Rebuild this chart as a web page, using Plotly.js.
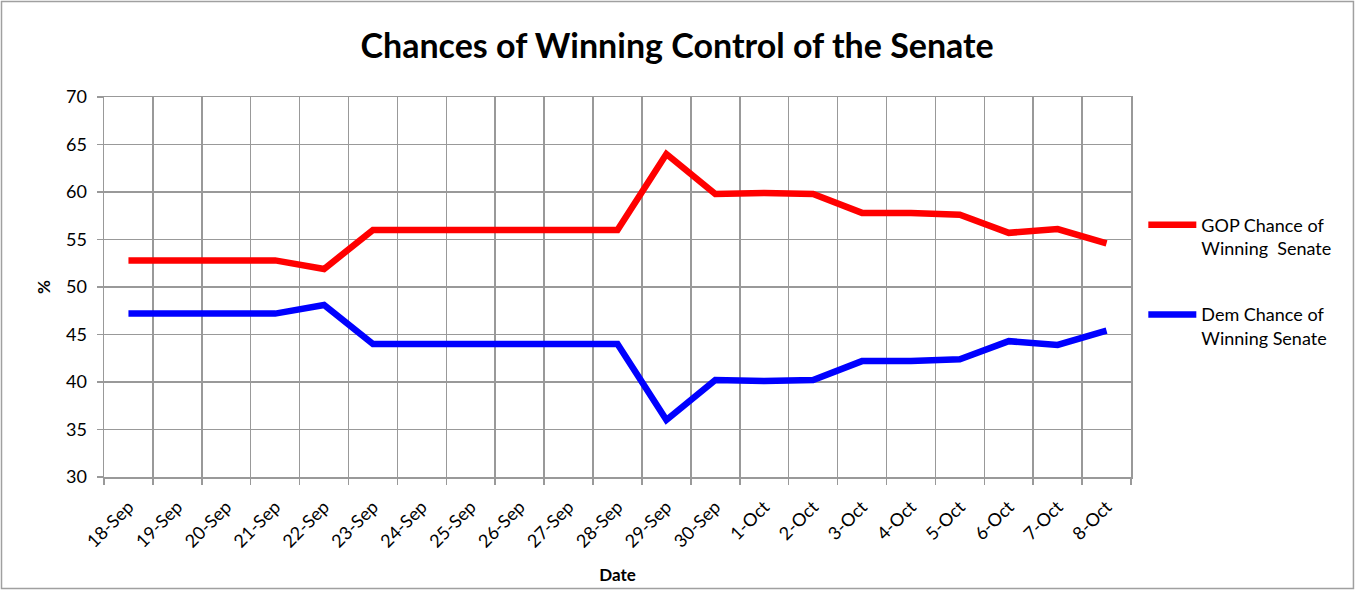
<!DOCTYPE html>
<html>
<head>
<meta charset="utf-8">
<script src="https://cdn.plot.ly/plotly-3.0.1.min.js"></script>
<style>
  body { margin: 0; background: #fff; }
  #chart { width: 1357px; height: 590px; }
</style>
</head>
<body>
<div id="chart"></div>
<script>
// Dates on the x axis
const dates = ["18-Sep", "19-Sep", "20-Sep", "21-Sep", "22-Sep", "23-Sep", "24-Sep",
  "25-Sep", "26-Sep", "27-Sep", "28-Sep", "29-Sep", "30-Sep", "1-Oct", "2-Oct",
  "3-Oct", "4-Oct", "5-Oct", "6-Oct", "7-Oct", "8-Oct"];

// GOP chance of winning the Senate (%)
const gopChance = [52.8, 52.8, 52.8, 52.8, 51.9, 56.0, 56.0, 56.0, 56.0, 56.0, 56.0,
  64.0, 59.8, 59.9, 59.8, 57.8, 57.8, 57.6, 55.7, 56.1, 54.6];

// Dem chance of winning the Senate (%)
const demChance = [47.2, 47.2, 47.2, 47.2, 48.1, 44.0, 44.0, 44.0, 44.0, 44.0, 44.0,
  36.0, 40.2, 40.1, 40.2, 42.2, 42.2, 42.4, 44.3, 43.9, 45.4];

const seriesNames = ["GOP Chance of<br>Winning  Senate", "Dem Chance of<br>Winning Senate"];
const yTicks = [30, 35, 40, 45, 50, 55, 60, 65, 70];

const font = "Lato, 'Open Sans', sans-serif";
const gridColor = "#999999";

let gopLine = {
  x: dates, y: gopChance, name: seriesNames[0], legendgroup: "gop",
  type: "scatter", mode: "lines",
  line: { color: "#ff0000", width: 6.5 }
};

let demLine = {
  x: dates, y: demChance, name: seriesNames[1], legendgroup: "dem",
  type: "scatter", mode: "lines",
  line: { color: "#0000ff", width: 6.5 }
};

let layout = {
  width: 1357, height: 590,
  margin: { l: 104, r: 226, t: 97, b: 113 },
  paper_bgcolor: "#fff", plot_bgcolor: "#fff",
  font: { family: font, size: 17, color: "#000" },
  title: {
    text: "<b>Chances of Winning Control of the Senate</b>",
    font: { family: font, size: 34, color: "#000" },
    x: 0.499, xanchor: "center", y: 0.922, yanchor: "middle"
  },
  xaxis: {
    type: "category",
    range: [-0.5, dates.length - 0.5],
    tickson: "boundaries",
    ticks: "outside", ticklen: 6, tickcolor: gridColor, tickwidth: 1.5,
    tickangle: -45, ticklabelstandoff: 11,
    showgrid: true, gridcolor: gridColor, gridwidth: 1.5,
    showline: true, linecolor: gridColor, linewidth: 1.5, mirror: true,
    tickfont: { family: font, size: 18 },
    title: { text: "<b>Date</b>", font: { family: font, size: 17 }, standoff: 18 }
  },
  yaxis: {
    range: [30, 70],
    tickvals: yTicks,
    ticks: "outside", ticklen: 6, tickcolor: gridColor, tickwidth: 1.5,
    ticklabelstandoff: 6,
    showgrid: true, gridcolor: gridColor, gridwidth: 1.5,
    showline: true, linecolor: gridColor, linewidth: 1.5, mirror: true,
    zeroline: false,
    tickfont: { family: font, size: 18 },
    title: { text: "<b>%</b>", font: { family: font, size: 17 }, standoff: 11 }
  },
  showlegend: true,
  legend: {
    x: 1.012, xanchor: "left", y: 0.712, yanchor: "top",
    valign: "top", tracegroupgap: 40, itemwidth: 48,
    font: { family: font, size: 18, color: "#000" },
    bgcolor: "rgba(0,0,0,0)"
  },
  shapes: [{
    type: "rect", xref: "paper", yref: "paper",
    x0: -0.0998, x1: 1.2166, y0: -0.2934, y1: 1.2513,
    line: { color: "#a0a0a0", width: 1.5 }, fillcolor: "rgba(0,0,0,0)"
  }]
};

Plotly.newPlot("chart", [gopLine, demLine], layout, { displayModeBar: false, staticPlot: true });
</script>
</body>
</html>
